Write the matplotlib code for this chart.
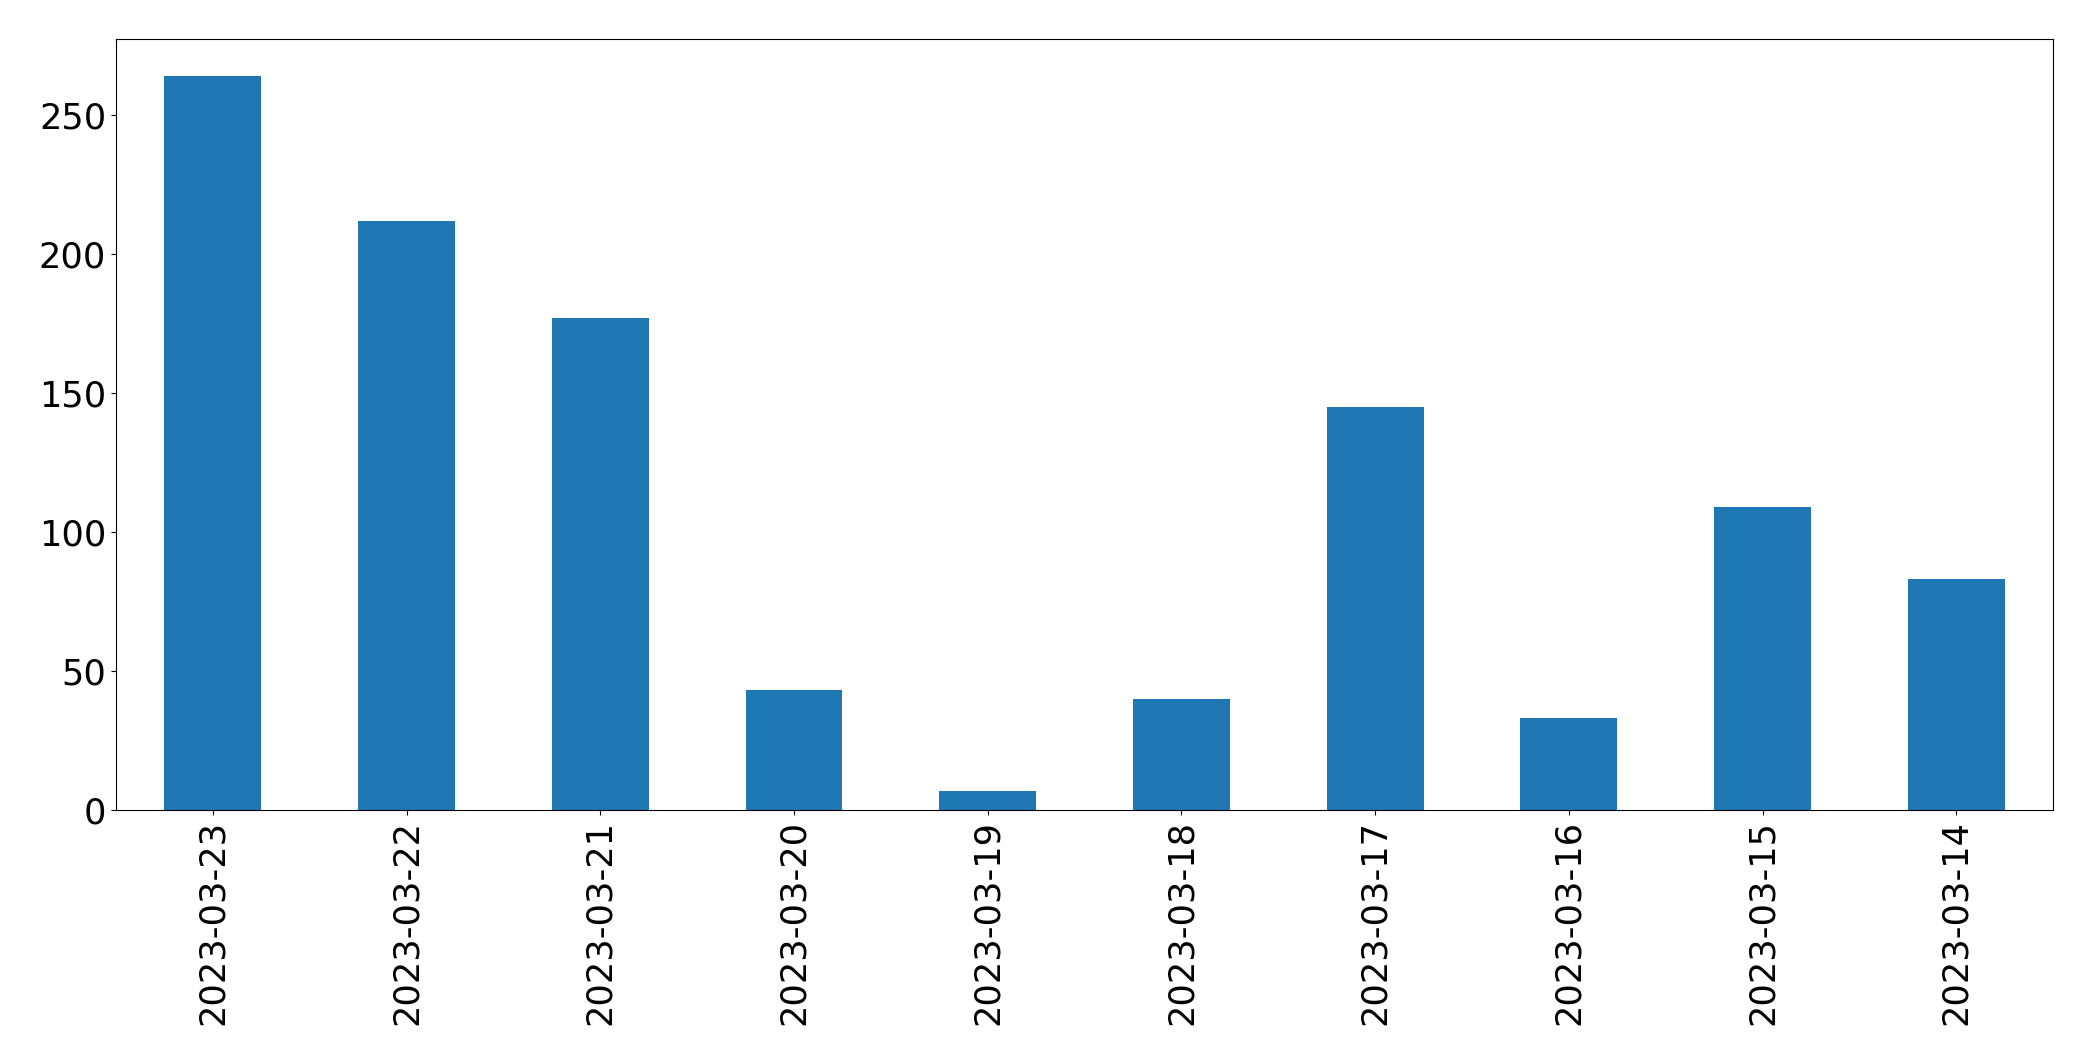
import matplotlib
matplotlib.use('Agg')
import matplotlib.pyplot as plt

dates = ['2023-03-23', '2023-03-22', '2023-03-21', '2023-03-20', '2023-03-19',
         '2023-03-18', '2023-03-17', '2023-03-16', '2023-03-15', '2023-03-14']
counts = [264, 212, 177, 43, 7, 40, 145, 33, 109, 83]

fig, ax = plt.subplots(figsize=(20.93, 10.61), dpi=100)
positions = range(len(dates))
ax.bar(positions, counts, width=0.5, color='#1f77b4')
ax.set_xlim(-0.5, len(dates) - 0.5)
ax.set_xticks(list(positions))
ax.set_xticklabels(dates, rotation=90)
ax.tick_params(axis='both', labelsize=25.3)

plt.subplots_adjust(left=0.0554, right=0.981, top=0.963, bottom=0.2366)
fig.savefig('out.png', dpi=100)
